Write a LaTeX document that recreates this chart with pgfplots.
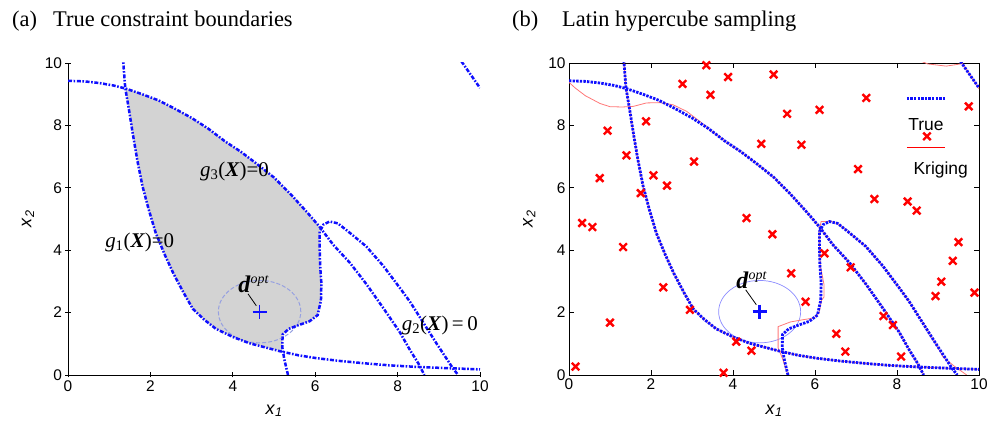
\documentclass[border=0pt]{standalone}
\usepackage{fontspec}
\setmainfont{Liberation Serif}
\setsansfont{Liberation Sans}
\usepackage{pgfplots}
\pgfplotsset{compat=1.18}
\usepackage{pgfplotstable}

\definecolor{trueblue}{RGB}{15,15,255}
\definecolor{feasgray}{RGB}{211,211,211}
\definecolor{circblue}{RGB}{150,160,225}
\definecolor{krig}{RGB}{255,120,120}

% g1 boundary
\pgfplotstableread{
x y
1.33 10.2
1.39 9.2
1.48 8.5
1.57 7.75
1.68 6.9
1.81 6.04
1.96 5.3
2.13 4.55
2.35 3.85
2.56 3.25
2.80 2.65
3.03 2.12
3.30 1.78
3.59 1.48
4.00 1.22
4.40 1.02
4.80 0.88
5.15 0.76
5.60 0.63
6.03 0.54
6.60 0.45
7.24 0.37
7.80 0.31
8.46 0.26
9.20 0.22
10.0 0.18
}\gone

% g2 boundary
\pgfplotstableread{
x y
5.34 0
5.25 0.5
5.20 0.9
5.21 1.3
5.36 1.48
5.60 1.60
5.86 1.72
6.06 1.92
6.14 2.4
6.15 2.94
6.12 3.5
6.11 4.0
6.11 4.6
6.20 4.82
6.35 4.92
6.55 4.86
6.80 4.6
7.24 4.12
7.65 3.5
8.05 2.8
8.30 2.35
8.54 1.85
8.95 1.0
9.20 0.5
9.35 0.2
9.47 0
}\gtwo

% g3 boundary
\pgfplotstableread{
x y
0 9.43
0.40 9.41
0.75 9.36
1.10 9.28
1.40 9.18
1.80 9.00
2.20 8.80
2.60 8.53
3.00 8.24
3.40 7.90
3.80 7.50
4.20 7.15
4.60 6.75
5.00 6.33
5.40 5.80
5.80 5.22
6.10 4.76
6.44 4.17
6.84 3.60
7.25 2.90
7.65 2.15
8.05 1.38
8.30 0.80
8.50 0.38
8.65 0
}\gthree

% upper right corner piece
\pgfplotstableread{
x y
9.55 10.05
10.0 9.2
}\gcorner

% kriging approximations
\pgfplotstableread{
x y
0 9.38
0.15 9.2
0.40 8.95
0.76 8.70
1.00 8.60
1.30 8.59
1.57 8.61
1.89 8.72
2.22 8.73
2.54 8.66
2.87 8.45
3.20 8.12
3.40 7.90
3.80 7.50
4.20 7.15
4.60 6.75
5.00 6.33
5.40 5.80
5.80 5.22
6.10 4.76
6.44 4.17
6.84 3.60
7.25 2.90
7.65 2.15
8.05 1.38
8.30 0.80
8.50 0.38
8.65 0
}\kthree

\pgfplotstableread{
x y
5.34 0
5.20 0.55
5.10 0.87
5.10 1.55
5.40 1.70
5.70 1.77
5.98 1.83
6.10 2.0
6.16 2.4
6.22 2.5
6.22 2.9
6.13 3.5
6.11 4.0
6.10 4.6
6.15 4.92
6.40 4.92
6.60 4.82
6.80 4.6
7.24 4.12
7.65 3.5
8.05 2.8
8.30 2.35
8.54 1.85
8.95 1.0
9.12 0.58
9.40 0.28
9.70 0
}\ktwo

\pgfplotstableread{
x y
8.60 10.05
8.75 9.97
9.20 9.90
9.50 9.96
9.60 9.98
10.0 9.17
}\kcorner

% Latin hypercube samples
\pgfplotstableread{
x y
3.35 9.93
3.88 9.55
4.99 9.63
2.77 9.33
3.45 8.98
7.25 8.88
9.75 8.61
5.32 8.37
6.11 8.50
1.88 8.13
0.94 7.83
8.73 7.65
4.69 7.41
5.67 7.38
1.40 7.04
3.05 6.84
7.05 6.60
0.75 6.31
2.06 6.40
2.39 6.07
1.75 5.83
7.45 5.64
8.26 5.56
8.48 5.27
0.32 4.87
0.57 4.74
4.33 5.03
4.96 4.51
9.50 4.26
1.32 4.10
6.23 3.90
9.36 3.66
6.87 3.45
5.42 3.26
9.08 2.99
8.94 2.53
9.89 2.64
2.30 2.81
5.77 2.35
2.95 2.09
1.00 1.68
7.67 1.89
7.90 1.60
6.52 1.32
4.08 1.07
4.45 0.78
6.74 0.75
8.10 0.59
0.16 0.27
3.77 0.07
}\lhs

% feasible region
\pgfplotstableread{
x y
1.39 9.2
1.48 8.5
1.57 7.75
1.68 6.9
1.81 6.04
1.96 5.3
2.13 4.55
2.35 3.85
2.56 3.25
2.80 2.65
3.03 2.12
3.30 1.78
3.59 1.48
4.00 1.22
4.40 1.02
4.80 0.88
5.20 0.76
5.20 0.9
5.21 1.3
5.36 1.48
5.60 1.60
5.86 1.72
6.06 1.92
6.14 2.4
6.15 2.94
6.12 3.5
6.11 4.0
6.11 4.6
6.10 4.76
5.80 5.22
5.40 5.80
5.00 6.33
4.60 6.75
4.20 7.15
3.80 7.50
3.40 7.90
3.00 8.24
2.60 8.53
2.20 8.80
1.80 9.00
}\feas

\newcommand{\glabel}[1]{\textit{g}\textsubscript{#1}(\textbf{\textit{X}})=0}
\newcommand{\dopt}{\textbf{\textit{d}}{\fontsize{14}{14}\selectfont\raisebox{9bp}{\itshape opt}}}

\tikzset{
  leftcurve/.style={trueblue, line width=2.5bp, dash pattern=on 4bp off 1.6bp on 1.6bp off 1.6bp},
  rightcurve/.style={trueblue, line width=2.8bp, dash pattern=on 2.4bp off 1.2bp},
  krigcurve/.style={krig, line width=0.8bp},
}

\pgfplotsset{
  panel/.style={
    scale only axis, height=312bp,
    xmin=0, xmax=10, ymin=0, ymax=10,
    xtick={0,2,...,10}, ytick={0,2,...,10},
    tick align=inside, major tick length=5bp,
    tick style={black, line width=0.7bp},
    axis line style={line width=0.8bp},
    ticklabel style={font=\sffamily\fontsize{15.5}{16}\selectfont},
    /pgf/number format/assume math mode=true,
    xlabel={\textit{x}\textsubscript{\textit{1}}},
    ylabel={\textit{x}\textsubscript{\textit{2}}},
    label style={font=\sffamily\fontsize{18}{18}\selectfont},
    xlabel style={at={(axis description cs:0.5,-0.115)}, anchor=center},
    ylabel style={at={(axis description cs:-0.097,0.5)}, anchor=center, rotate=0},
  },
}

\begin{document}
\begin{tikzpicture}
\path[use as bounding box] (0,0) rectangle (997bp,431bp);

\node[anchor=base west, inner sep=0, font=\fontsize{22.5}{26}\selectfont] at (12bp,404bp) {(a)};
\node[anchor=base west, inner sep=0, font=\fontsize{22.5}{26}\selectfont] at (53bp,404bp) {True constraint boundaries};
\node[anchor=base west, inner sep=0, font=\fontsize{22.5}{26}\selectfont] at (512bp,404bp) {(b)};
\node[anchor=base west, inner sep=0, font=\fontsize{22.5}{26}\selectfont] at (562bp,404bp) {Latin hypercube sampling};

% (a)
\begin{axis}[panel, width=412bp, at={(68bp,56bp)}, anchor=south west,
  axis lines=left, axis line style={-}]
\addplot[fill=feasgray, draw=none] table {\feas} -- cycle;
\draw[circblue, line width=1bp, dash pattern=on 4bp off 2bp] (axis cs:4.65,2.03) ellipse [x radius=1.0, y radius=1.0];
\addplot[leftcurve] table {\gone};
\addplot[leftcurve] table {\gtwo};
\addplot[leftcurve] table {\gthree};
\addplot[leftcurve] table {\gcorner};
\addplot[only marks, mark=+, mark size=7bp, color=trueblue, mark options={solid, draw=trueblue, line width=1.8bp}] coordinates {(4.65,2.03)};
\draw[black, line width=0.8bp] (axis cs:4.37,2.6) -- (axis cs:4.57,2.22);
\node[anchor=base west, inner sep=0, font=\fontsize{24}{24}\selectfont] at (axis cs:4.13,2.66) {\dopt};
\node[anchor=base west, inner sep=0, font=\fontsize{21}{21}\selectfont] at (axis cs:3.2,6.35) {\glabel{3}};
\node[anchor=base west, inner sep=0, font=\fontsize{21}{21}\selectfont] at (axis cs:0.9,4.1) {\glabel{1}};
\node[anchor=base west, inner sep=0, font=\fontsize{21}{21}\selectfont] at (axis cs:8.1,1.44) {\textit{g}\textsubscript{2}(\textbf{\textit{X}})\,=\,0};
\end{axis}

% (b)
\begin{axis}[panel, width=410bp, at={(569bp,56bp)}, anchor=south west]
\draw[blue!45, line width=0.7bp] (axis cs:4.65,2.03) ellipse [x radius=1.0, y radius=1.0];
\addplot[krigcurve] table {\gone};
\addplot[krigcurve] table {\ktwo};
\addplot[krigcurve] table {\kthree};
\addplot[krigcurve] table {\kcorner};
\addplot[rightcurve] table {\gone};
\addplot[rightcurve] table {\gtwo};
\addplot[rightcurve] table {\gthree};
\addplot[rightcurve] table {\gcorner};
\addplot[only marks, mark=x, mark size=5.3bp, red, line width=2.4bp] table {\lhs};
\addplot[only marks, mark=+, mark size=7bp, color=trueblue, mark options={solid, draw=trueblue, line width=3bp}] coordinates {(4.65,2.03)};
\draw[black, line width=0.8bp] (axis cs:4.31,2.73) -- (axis cs:4.57,2.25);
\node[anchor=base west, inner sep=0, font=\fontsize{24}{24}\selectfont] at (axis cs:4.08,2.78) {\dopt};
% legend
\draw[rightcurve] (axis cs:8.24,8.85) -- (axis cs:9.17,8.85);
\node[anchor=base west, inner sep=0, font=\sffamily\fontsize{17.5}{18}\selectfont] at (axis cs:8.27,7.85) {True};
\draw[red, line width=0.8bp] (axis cs:8.24,7.31) -- (axis cs:9.17,7.31);
\node[anchor=base west, inner sep=0, font=\sffamily\fontsize{17.5}{18}\selectfont] at (axis cs:8.4,6.42) {Kriging};
\end{axis}
\end{tikzpicture}
\end{document}
